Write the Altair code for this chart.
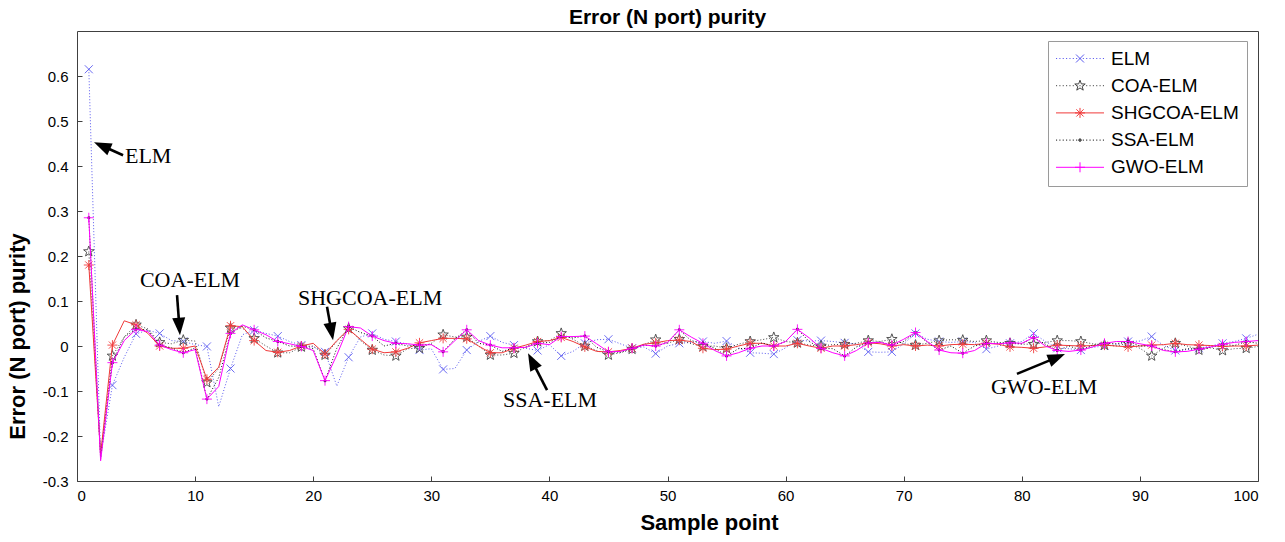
import math
import altair as alt
import pandas as pd

# ---------------- data ----------------
series_names = ["ELM", "COA-ELM", "SHGCOA-ELM", "SSA-ELM", "GWO-ELM"]
samples = list(range(1, 101))

elm = [0.615, -0.246, -0.087, -0.025, 0.027, 0.035, 0.028, 0.012, 0.010, 0.003,
       -0.001, -0.135, -0.050, 0.025, 0.035, 0.028, 0.022, 0.010, 0.002, -0.002,
       -0.013, -0.089, -0.025, 0.020, 0.028, 0.015, 0.010, 0.004, -0.009, -0.006,
       -0.052, -0.050, -0.009, 0.010, 0.022, 0.008, 0.002, -0.005, -0.010, 0.003,
       -0.022, -0.012, 0.006, 0.014, 0.015, 0.005, -0.005, -0.002, -0.017, 0.000,
       0.006, 0.008, 0.010, 0.006, 0.011, -0.004, -0.015, -0.016, -0.018, -0.004,
       0.013, 0.011, 0.012, 0.010, 0.007, 0.004, -0.013, -0.014, -0.013, 0.005,
       0.028, 0.015, 0.010, 0.008, 0.010, 0.008, -0.007, 0.000, 0.006, 0.010,
       0.028, 0.010, -0.005, -0.006, -0.009, -0.003, 0.000, 0.003, 0.010, 0.011,
       0.021, 0.001, -0.010, -0.008, -0.005, 0.000, 0.006, 0.010, 0.017, 0.026]

coa = [0.210, -0.245, -0.022, 0.020, 0.047, 0.038, 0.008, 0.005, 0.013, 0.011,
       -0.081, -0.050, 0.040, 0.040, 0.017, 0.000, -0.015, -0.015, -0.002, 0.000,
       -0.020, 0.010, 0.039, 0.012, -0.009, -0.020, -0.022, -0.006, -0.005, 0.006,
       0.025, 0.020, 0.020, 0.000, -0.020, -0.020, -0.016, -0.002, 0.010, 0.012,
       0.028, 0.015, 0.000, -0.010, -0.020, -0.015, -0.007, 0.003, 0.014, 0.006,
       0.015, 0.005, -0.001, 0.000, -0.005, 0.004, 0.010, 0.014, 0.019, 0.010,
       0.007, 0.002, 0.000, 0.003, 0.004, 0.006, 0.012, 0.010, 0.015, 0.005,
       0.002, 0.006, 0.012, 0.014, 0.013, 0.010, 0.012, 0.008, 0.006, 0.004,
       0.004, 0.008, 0.012, 0.012, 0.010, 0.005, 0.002, 0.000, 0.006, -0.005,
       -0.022, -0.005, 0.006, 0.000, -0.009, -0.004, -0.010, -0.006, -0.005, -0.001]

shgcoa = [0.180, -0.240, 0.002, 0.056, 0.047, 0.028, 0.000, -0.005, -0.005, 0.000,
          -0.074, -0.047, 0.045, 0.043, 0.012, -0.010, -0.014, -0.010, 0.000, 0.006,
          -0.018, 0.012, 0.037, 0.015, -0.007, -0.015, -0.013, -0.005, 0.007, 0.012,
          0.017, 0.017, 0.016, 0.000, -0.015, -0.015, -0.005, 0.002, 0.010, 0.012,
          0.019, 0.010, -0.002, -0.012, -0.013, -0.010, -0.005, 0.004, 0.007, 0.012,
          0.013, 0.010, -0.005, -0.008, -0.007, 0.000, 0.006, 0.006, 0.000, 0.000,
          0.006, 0.000, -0.005, 0.000, 0.000, 0.003, 0.007, 0.005, 0.000, 0.003,
          0.000, 0.002, 0.000, 0.003, 0.004, 0.003, 0.006, 0.004, -0.002, -0.003,
          -0.005, -0.002, 0.002, 0.001, 0.000, 0.001, 0.002, 0.000, -0.002, 0.000,
          0.002, 0.003, 0.006, 0.003, 0.002, 0.001, -0.001, 0.000, 0.000, 0.002]

ssa = [0.285, -0.250, -0.037, 0.020, 0.037, 0.036, 0.002, -0.004, -0.015, -0.004,
       -0.118, -0.070, 0.028, 0.044, 0.036, 0.018, 0.010, 0.000, -0.001, -0.006,
       -0.077, -0.005, 0.043, 0.030, 0.022, 0.000, 0.006, 0.000, 0.002, 0.004,
       -0.013, 0.016, 0.036, 0.006, 0.002, -0.012, -0.004, -0.003, 0.006, 0.008,
       0.021, 0.018, 0.022, -0.003, -0.013, -0.014, -0.005, 0.002, 0.000, 0.007,
       0.036, 0.012, 0.006, -0.005, -0.022, -0.006, -0.005, 0.007, 0.000, 0.010,
       0.037, 0.010, -0.005, -0.006, -0.022, -0.002, 0.007, 0.009, 0.002, 0.010,
       0.030, 0.008, -0.009, 0.000, -0.016, 0.000, 0.006, 0.006, 0.007, 0.005,
       0.019, 0.004, -0.010, 0.000, -0.009, 0.002, 0.006, 0.005, 0.010, 0.000,
       0.000, -0.008, -0.013, -0.006, -0.007, -0.003, 0.004, 0.001, 0.010, 0.006]

gwo = [0.285, -0.255, -0.037, 0.012, 0.037, 0.032, 0.002, -0.008, -0.015, -0.008,
       -0.118, -0.090, 0.028, 0.047, 0.036, 0.025, 0.010, 0.005, -0.001, -0.010,
       -0.077, -0.020, 0.043, 0.040, 0.022, 0.012, 0.006, 0.005, 0.002, 0.003,
       -0.013, 0.012, 0.036, 0.012, 0.002, -0.004, -0.004, -0.003, 0.006, 0.003,
       0.021, 0.021, 0.022, 0.005, -0.013, -0.012, -0.005, 0.002, 0.000, 0.008,
       0.036, 0.020, 0.006, -0.010, -0.022, -0.015, -0.005, 0.000, 0.000, 0.010,
       0.037, 0.018, -0.005, -0.015, -0.022, -0.010, 0.007, 0.008, 0.002, 0.015,
       0.030, 0.010, -0.009, -0.015, -0.016, -0.010, 0.006, 0.005, 0.007, 0.006,
       0.019, 0.000, -0.010, -0.012, -0.009, -0.002, 0.006, 0.010, 0.010, 0.005,
       0.000, -0.010, -0.013, -0.012, -0.007, -0.002, 0.004, 0.008, 0.010, 0.012]

x_ticks = [0, 10, 20, 30, 40, 50, 60, 70, 80, 90, 100]
y_ticks = [-0.3, -0.2, -0.1, 0, 0.1, 0.2, 0.3, 0.4, 0.5, 0.6]

# annotations (data coordinates)
ann_text = ["ELM", "COA-ELM", "SHGCOA-ELM", "SSA-ELM", "GWO-ELM"]
ann_tx = [4.06, 5.33, 18.71, 36.07, 77.39]
ann_ty = [0.422, 0.147, 0.107, -0.120, -0.091]
tail_x = [3.90, 8.47, 21.17, 39.80, 79.59]
tail_y = [0.424, 0.113, 0.087, -0.098, -0.062]
tip_x = [1.44, 8.72, 21.68, 38.19, 83.66]
tip_y = [0.453, 0.024, 0.013, -0.016, -0.018]

# ---------------- styling ----------------
W, H = 1181, 450
XDOM, YDOM = [0, 100], [-0.3, 0.7]
KX = W / (XDOM[1] - XDOM[0])
KY = H / (YDOM[1] - YDOM[0])

colors = ["#5b5bf0", "#444444", "#f03a3a", "#111111", "#ff00ff"]
dashes = [[1, 2], [1, 2], None, [1, 2], None]


def f(v):
    return f"{v:.3f}"


def x_marker(cx):
    a = 0.8
    return f"M{f(cx-a)},{f(-a)}L{f(cx+a)},{f(a)}M{f(cx-a)},{f(a)}L{f(cx+a)},{f(-a)}"


def plus_marker(cx):
    a = 1.0
    return f"M{f(cx-a)},0L{f(cx+a)},0M{f(cx)},{f(-a)}L{f(cx)},{f(a)}"


def asterisk_marker(cx):
    a, d = 1.0, 0.72
    return (plus_marker(cx) +
            f"M{f(cx-d)},{f(-d)}L{f(cx+d)},{f(d)}M{f(cx-d)},{f(d)}L{f(cx+d)},{f(-d)}")


def star_marker(cx):
    R, r = 1.1, 0.45
    pts = []
    for k in range(10):
        ang = -math.pi / 2 + k * math.pi / 5
        rad = R if k % 2 == 0 else r
        pts.append((cx + rad * math.cos(ang), rad * math.sin(ang)))
    return "M" + "L".join(f"{f(px)},{f(py)}" for px, py in pts) + "Z"


def dot_marker(cx, r=0.3):
    return (f"M{f(cx+r)},0A{r},{r},0,1,1,{f(cx-r)},0"
            f"A{r},{r},0,1,1,{f(cx+r)},0Z")


marker_funcs = [x_marker, star_marker, asterisk_marker, dot_marker, plus_marker]
chart_markers = [fn(0.0) for fn in marker_funcs]

# legend symbols: line sample + marker, in symbol units (5 px / unit at size 100)
LX0, LX1 = -1.9, 7.7
LMID = (LX0 + LX1) / 2


def line_part(dash):
    if dash is None:
        return f"M{f(LX0)},0L{f(LX1)},0"
    seg, gap = 0.22, 0.45
    out, xx = [], LX0
    while xx < LX1:
        out.append(f"M{f(xx)},0L{f(min(xx+seg, LX1))},0")
        xx += seg + gap
    return "".join(out)


legend_paths = [line_part(d) + (fn(LMID) if fn is not dot_marker else dot_marker(LMID, 0.25))
                for d, fn in zip(dashes, marker_funcs)]

# ---------------- tables ----------------
rows = []
for name, vals in zip(series_names, [elm, coa, shgcoa, ssa, gwo]):
    for s, v in zip(samples, vals):
        rows.append({"sample": s, "value": v, "series": name})
df = pd.DataFrame(rows)

HEAD_BACK = 10.0  # px from tip to arrowhead symbol centre
ann_rows = []
for t, tx, ty, ax, ay, bx, by in zip(ann_text, ann_tx, ann_ty, tail_x, tail_y, tip_x, tip_y):
    dxp = (bx - ax) * KX
    dyp = -(by - ay) * KY
    L = math.hypot(dxp, dyp)
    ux, uy = dxp / L, dyp / L
    cxp, cyp = -HEAD_BACK * ux, -HEAD_BACK * uy
    cx = bx + cxp / KX
    cy = by - cyp / KY
    ang = math.degrees(math.atan2(ux, -uy)) % 360
    ann_rows.append({"label": t, "tx": tx, "ty": ty, "ax": ax, "ay": ay,
                     "hx": cx, "hy": cy, "ang": ang})
ann = pd.DataFrame(ann_rows)

# ---------------- encodings ----------------
FONT = "Liberation Sans"
xaxis = alt.Axis(values=x_ticks, offset=-5, tickSize=5, domain=False, grid=False,
                 labelPadding=7, labelFont=FONT, labelFontSize=15, labelColor="#000000",
                 tickColor="#404040", title="Sample point", titleFont=FONT,
                 titleFontSize=22, titleFontWeight="bold", titleColor="#000000",
                 titleX=632, titlePadding=9)
yaxis = alt.Axis(values=y_ticks, offset=-5, tickSize=5, domain=False, grid=False,
                 labelPadding=9, labelFont=FONT, labelFontSize=15, labelColor="#000000",
                 labelExpr="'' + datum.value",
                 tickColor="#404040", title="Error (N port) purity", titleFont=FONT,
                 titleFontSize=22, titleFontWeight="bold", titleColor="#000000",
                 titleY=305, titlePadding=13)
xscale = alt.Scale(domain=XDOM, nice=False, zero=False)
yscale = alt.Scale(domain=YDOM, nice=False, zero=False)


def X(field):
    return alt.X(f"{field}:Q", scale=xscale, axis=xaxis)


def Y(field):
    return alt.Y(f"{field}:Q", scale=yscale, axis=yaxis)


layers = []
for name, col, dash, mk in zip(series_names, colors, dashes, chart_markers):
    base = alt.Chart(df).transform_filter(alt.datum.series == name)
    line_kw = dict(color=col, strokeWidth=1, clip=True)
    if dash is not None:
        line_kw["strokeDash"] = dash
    layers.append(base.mark_line(**line_kw).encode(x=X("sample"), y=Y("value")))
    filled = name == "SSA-ELM"
    layers.append(
        base.transform_filter("datum.sample % 2 == 1")
        .mark_point(shape=mk, filled=filled, color=col, size=100, opacity=1,
                    strokeWidth=0.9, clip=True)
        .encode(x=X("sample"), y=Y("value"))
    )

leg = alt.Legend(title=None, orient="none", legendX=971, legendY=10, padding=8,
                 fillColor="#ffffff", strokeColor="#9a9a9a", labelFont=FONT,
                 labelFontSize=19, labelColor="#000000", labelOffset=36,
                 rowPadding=7.2, symbolSize=100, symbolStrokeWidth=1, labelLimit=300)
legend_layer = (
    alt.Chart(df).transform_filter("datum.sample < 0")
    .mark_point(filled=False, size=100, opacity=1, strokeWidth=1)
    .encode(
        x=X("sample"), y=Y("value"),
        stroke=alt.Stroke("series:N", scale=alt.Scale(domain=series_names, range=colors), legend=leg),
        shape=alt.Shape("series:N", scale=alt.Scale(domain=series_names, range=legend_paths), legend=leg),
    )
)
layers.append(legend_layer)

ann_base = alt.Chart(ann)
layers.append(ann_base.mark_rule(color="#000000", strokeWidth=2.6).encode(
    x=X("ax"), y=Y("ay"), x2="hx:Q", y2="hy:Q"))
layers.append(ann_base.mark_point(shape="M0,-1L0.65,0.75L-0.65,0.75Z", filled=True,
                                  color="#000000", size=400, opacity=1).encode(
    x=X("hx"), y=Y("hy"), angle=alt.Angle("ang:Q", scale=None)))
layers.append(ann_base.mark_text(align="left", baseline="middle", font="Liberation Serif",
                                 fontSize=22, color="#000000").encode(
    x=X("tx"), y=Y("ty"), text="label:N"))

chart = (
    alt.layer(*layers)
    .properties(
        width=W, height=H,
        title=alt.Title("Error (N port) purity", font=FONT, fontSize=21,
                        fontWeight="bold", color="#000000", anchor="middle", offset=3),
        autosize=alt.AutoSizeParams(type="none"),
        padding={"left": 77, "top": 31, "right": 27, "bottom": 61},
        background="#ffffff",
    )
    .configure_view(stroke="#404040", strokeWidth=1)
)

chart.save("out.html", embed_options={"renderer": "svg", "actions": False})
